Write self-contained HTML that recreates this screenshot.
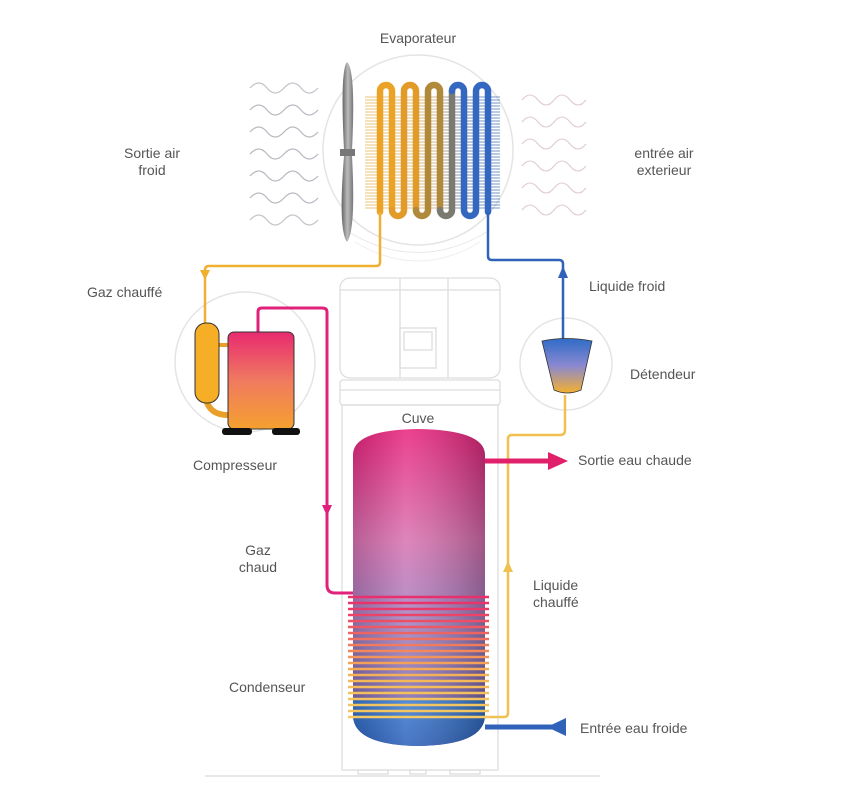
<!DOCTYPE html>
<html><head><meta charset="utf-8"><style>
html,body{margin:0;padding:0;background:#fff;}
svg{display:block;}
text{font-family:"Liberation Sans",sans-serif;font-size:14px;fill:#555;}
</style></head><body>
<svg width="862" height="799" viewBox="0 0 862 799" xmlns="http://www.w3.org/2000/svg">
<defs>
<linearGradient id="tank" x1="0" y1="0" x2="0" y2="1">
<stop offset="0" stop-color="#e8207a"/><stop offset="0.35" stop-color="#d870b0"/><stop offset="0.6" stop-color="#a080c0"/><stop offset="1" stop-color="#6a5aa8"/></linearGradient>
<linearGradient id="tankh" x1="0" y1="0" x2="1" y2="0">
<stop offset="0" stop-color="#000" stop-opacity="0.15"/><stop offset="0.4" stop-color="#fff" stop-opacity="0.15"/><stop offset="1" stop-color="#000" stop-opacity="0.25"/></linearGradient>
<linearGradient id="blue" x1="0" y1="0" x2="0" y2="1"><stop offset="0" stop-color="#3a7ad0"/><stop offset="1" stop-color="#2a5eb8"/></linearGradient>
<linearGradient id="comp" x1="0" y1="0" x2="0" y2="1"><stop offset="0" stop-color="#e82a70"/><stop offset="0.5" stop-color="#f07a60"/><stop offset="1" stop-color="#f5a030"/></linearGradient>
<linearGradient id="cone" x1="0" y1="0" x2="0" y2="1"><stop offset="0" stop-color="#2f6cc8"/><stop offset="0.5" stop-color="#8a88d0"/><stop offset="1" stop-color="#f5b030"/></linearGradient>
<linearGradient id="blade" x1="0" y1="0" x2="1" y2="0"><stop offset="0" stop-color="#666"/><stop offset="0.5" stop-color="#bbb"/><stop offset="1" stop-color="#777"/></linearGradient>
<linearGradient id="fin" x1="0" y1="0" x2="1" y2="0"><stop offset="0" stop-color="#e8b050"/><stop offset="0.5" stop-color="#c8a060"/><stop offset="0.7" stop-color="#607090"/><stop offset="1" stop-color="#4070b8"/></linearGradient>
</defs>

<!-- circles -->
<circle cx="418" cy="150" r="95" fill="#fff" stroke="#e4e4e4" stroke-width="1.5"/>
<path d="M345,230 Q418,275 490,230" fill="none" stroke="#e8e8e8"/>
<path d="M355,242 Q418,280 480,242" fill="none" stroke="#eee"/>
<circle cx="245" cy="362" r="70" fill="#fff" stroke="#e4e4e4" stroke-width="1.5"/>
<circle cx="566" cy="364" r="46" fill="#fff" stroke="#e4e4e4" stroke-width="1.5"/>

<!-- unit outline -->
<g fill="none" stroke="#ddd" stroke-width="1.3">
<rect x="340" y="278" width="160" height="100" rx="10"/>
<line x1="340" y1="290" x2="500" y2="290"/>
<line x1="400" y1="278" x2="400" y2="378"/><line x1="448" y1="278" x2="448" y2="378"/>
<rect x="400" y="328" width="36" height="40"/><rect x="404" y="332" width="28" height="18"/>
<rect x="340" y="380" width="160" height="25" rx="3"/>
<line x1="340" y1="390" x2="500" y2="390"/>
<rect x="342" y="405" width="156" height="365"/>
<rect x="358" y="770" width="30" height="4"/><rect x="410" y="770" width="16" height="4"/><rect x="450" y="770" width="30" height="4"/>
</g>
<line x1="205" y1="776" x2="600" y2="776" stroke="#e0e0e0" stroke-width="1.5"/>

<!-- waves -->
<g fill="none" stroke="#888898" stroke-width="1.2">
<path d="M250,88 q9,-10 17,0 t17,0 t17,0 t17,0" opacity="0.5"/>
<path d="M250,110 q9,-10 17,0 t17,0 t17,0 t17,0" opacity="0.6"/>
<path d="M250,132 q9,-10 17,0 t17,0 t17,0 t17,0" opacity="0.6"/>
<path d="M250,154 q9,-10 17,0 t17,0 t17,0 t17,0" opacity="0.6"/>
<path d="M250,176 q9,-10 17,0 t17,0 t17,0 t17,0" opacity="0.6"/>
<path d="M250,198 q9,-10 17,0 t17,0 t17,0 t17,0" opacity="0.6"/>
<path d="M250,220 q9,-10 17,0 t17,0 t17,0 t17,0" opacity="0.5"/>
</g>
<g fill="none" stroke="#c8a8b0" stroke-width="1.1" opacity="0.6">
<path d="M522,100 q8,-10 16,0 t16,0 t16,0 t16,0"/>
<path d="M522,122 q8,-10 16,0 t16,0 t16,0 t16,0"/>
<path d="M522,144 q8,-10 16,0 t16,0 t16,0 t16,0"/>
<path d="M522,166 q8,-10 16,0 t16,0 t16,0 t16,0"/>
<path d="M522,188 q8,-10 16,0 t16,0 t16,0 t16,0"/>
<path d="M522,210 q8,-10 16,0 t16,0 t16,0 t16,0"/>
</g>

<!-- fan -->
<path d="M347,62 Q356,70 352,150 L344,150 Q340,70 347,62z" fill="url(#blade)"/>
<path d="M344,156 L352,156 Q356,230 347,242 Q338,230 344,156z" fill="url(#blade)"/>
<rect x="340" y="149" width="15" height="7" fill="#777"/>

<!-- fins -->
<g stroke="url(#fin)" stroke-width="0.7">
<line x1="365" y1="97" x2="500" y2="97.01"/><line x1="365" y1="100" x2="500" y2="100.01"/><line x1="365" y1="103" x2="500" y2="103.01"/><line x1="365" y1="106" x2="500" y2="106.01"/><line x1="365" y1="109" x2="500" y2="109.01"/><line x1="365" y1="112" x2="500" y2="112.01"/><line x1="365" y1="115" x2="500" y2="115.01"/><line x1="365" y1="118" x2="500" y2="118.01"/><line x1="365" y1="121" x2="500" y2="121.01"/><line x1="365" y1="124" x2="500" y2="124.01"/><line x1="365" y1="127" x2="500" y2="127.01"/><line x1="365" y1="130" x2="500" y2="130.01"/><line x1="365" y1="133" x2="500" y2="133.01"/><line x1="365" y1="136" x2="500" y2="136.01"/><line x1="365" y1="139" x2="500" y2="139.01"/><line x1="365" y1="142" x2="500" y2="142.01"/><line x1="365" y1="145" x2="500" y2="145.01"/><line x1="365" y1="148" x2="500" y2="148.01"/><line x1="365" y1="151" x2="500" y2="151.01"/><line x1="365" y1="154" x2="500" y2="154.01"/><line x1="365" y1="157" x2="500" y2="157.01"/><line x1="365" y1="160" x2="500" y2="160.01"/><line x1="365" y1="163" x2="500" y2="163.01"/><line x1="365" y1="166" x2="500" y2="166.01"/><line x1="365" y1="169" x2="500" y2="169.01"/><line x1="365" y1="172" x2="500" y2="172.01"/><line x1="365" y1="175" x2="500" y2="175.01"/><line x1="365" y1="178" x2="500" y2="178.01"/><line x1="365" y1="181" x2="500" y2="181.01"/><line x1="365" y1="184" x2="500" y2="184.01"/><line x1="365" y1="187" x2="500" y2="187.01"/><line x1="365" y1="190" x2="500" y2="190.01"/><line x1="365" y1="193" x2="500" y2="193.01"/><line x1="365" y1="196" x2="500" y2="196.01"/><line x1="365" y1="199" x2="500" y2="199.01"/><line x1="365" y1="202" x2="500" y2="202.01"/><line x1="365" y1="205" x2="500" y2="205.01"/><line x1="365" y1="208" x2="500" y2="208.01"/>
</g>

<!-- serpentine -->
<g fill="none" stroke-width="6.5" stroke-linecap="round">
<path d="M380,212 V91 A6,6 0 0 1 392,91 V210" stroke="#eba325"/>
<path d="M392,210 A6,6 0 0 0 404,210 V91 A6,6 0 0 1 416,91 V210" stroke="#e29a28"/>
<path d="M416,210 A6,6 0 0 0 428,210 V91 A6,6 0 0 1 440,91 V210" stroke="#b08a3a"/>
<path d="M440,210 A6,6 0 0 0 452,210 V91" stroke="#7a7a70"/>
<path d="M452,91 A6,6 0 0 1 464,91 V210 A6,6 0 0 0 476,210 V91 A6,6 0 0 1 488,91 V212" stroke="#3468c0"/>
</g>

<!-- pipes -->
<path d="M380,212 V262 Q380,266 376,266 H209 Q205,266 205,270 V328" fill="none" stroke="#f0b030" stroke-width="2.5"/>
<path d="M200,270 L210,270 L205,280z" fill="#f0b030"/>
<path d="M488,212 V256 Q488,260 492,260 H559 Q563,260 563,264 V340" fill="none" stroke="#2f62b8" stroke-width="2.5"/>
<path d="M558,278 L568,278 L563,266z" fill="#2f62b8"/>
<path d="M258,332 V312 Q258,308 262,308 H322 Q327,308 327,312 V585 Q327,593 335,593 H355" fill="none" stroke="#e0207a" stroke-width="3"/>
<path d="M322,505 L332,505 L327,516z" fill="#e0207a"/>
<path d="M484,717 H504 Q508,717 508,713 V439 Q508,435 512,435 H560 Q565,435 565,430 V395" fill="none" stroke="#f0c050" stroke-width="2.5"/>
<path d="M503,572 L513,572 L508,561z" fill="#f0c050"/>

<!-- compressor -->
<path d="M205,390 Q205,415 228,415" fill="none" stroke="#e8a028" stroke-width="6"/>
<line x1="216" y1="345" x2="230" y2="345" stroke="#e8a028" stroke-width="4"/>
<rect x="195" y="323" width="24" height="80" rx="11" fill="#f5ae25" stroke="#333" stroke-width="1"/>
<rect x="228" y="332" width="66" height="97" rx="6" fill="url(#comp)" stroke="#333" stroke-width="1"/>
<rect x="222" y="428" width="30" height="7" rx="3" fill="#111"/>
<rect x="272" y="428" width="28" height="7" rx="3" fill="#111"/>

<!-- detendeur -->
<path d="M542,341 Q566,336 592,341 L581,390 Q567,396 554,390z" fill="url(#cone)" stroke="#333" stroke-width="0.8"/>

<!-- tank -->
<path d="M353,455 Q353,430 418,429 Q485,430 485,455 V715 Q485,745 418,746 Q353,745 353,715z" fill="url(#tank)"/>
<path d="M353,700 V715 Q353,745 418,746 Q485,745 485,715 V700z" fill="url(#blue)"/>
<path d="M353,455 Q353,430 418,429 Q485,430 485,455 V715 Q485,745 418,746 Q353,745 353,715z" fill="url(#tankh)"/>

<!-- coil -->
<g stroke-width="2.6" fill="none">
<line x1="348" y1="597" x2="489" y2="597" stroke="#e8306a"/><line x1="348" y1="603" x2="489" y2="603" stroke="#e8346a"/><line x1="348" y1="609" x2="489" y2="609" stroke="#ea3a6a"/><line x1="348" y1="615" x2="489" y2="615" stroke="#eb4468"/><line x1="348" y1="621" x2="489" y2="621" stroke="#ec4e66"/><line x1="348" y1="627" x2="489" y2="627" stroke="#ee5864"/><line x1="348" y1="633" x2="489" y2="633" stroke="#ef6462"/><line x1="348" y1="639" x2="489" y2="639" stroke="#f07060"/><line x1="348" y1="645" x2="489" y2="645" stroke="#f07c5e"/><line x1="348" y1="651" x2="489" y2="651" stroke="#f1885c"/><line x1="348" y1="657" x2="489" y2="657" stroke="#f2945a"/><line x1="348" y1="663" x2="489" y2="663" stroke="#f3a058"/><line x1="348" y1="669" x2="489" y2="669" stroke="#f3aa56"/><line x1="348" y1="675" x2="489" y2="675" stroke="#f4b256"/><line x1="348" y1="681" x2="489" y2="681" stroke="#f4b858"/><line x1="348" y1="687" x2="489" y2="687" stroke="#f4bc5a"/><line x1="348" y1="693" x2="489" y2="693" stroke="#f4c05c"/><line x1="348" y1="699" x2="489" y2="699" stroke="#f4c25e"/><line x1="348" y1="705" x2="489" y2="705" stroke="#f4c460"/><line x1="348" y1="711" x2="489" y2="711" stroke="#f4c662"/><line x1="348" y1="717" x2="489" y2="717" stroke="#f4c864"/>
</g>

<!-- water arrows -->
<line x1="485" y1="461" x2="552" y2="461" stroke="#e0206a" stroke-width="5"/>
<path d="M548,452 L568,461 L548,470z" fill="#e0206a"/>
<line x1="485" y1="727" x2="555" y2="727" stroke="#2f62b8" stroke-width="5"/>
<path d="M566,718 L547,727 L566,736z" fill="#2f62b8"/>

<!-- labels -->
<text x="418" y="43" text-anchor="middle">Evaporateur</text>
<text x="152" y="158" text-anchor="middle">Sortie air</text>
<text x="152" y="175" text-anchor="middle">froid</text>
<text x="664" y="158" text-anchor="middle">entrée air</text>
<text x="664" y="175" text-anchor="middle">exterieur</text>
<text x="87" y="297">Gaz chauffé</text>
<text x="589" y="291">Liquide froid</text>
<text x="630" y="379">Détendeur</text>
<text x="193" y="470">Compresseur</text>
<text x="418" y="423" text-anchor="middle">Cuve</text>
<text x="578" y="465">Sortie eau chaude</text>
<text x="258" y="555" text-anchor="middle">Gaz</text>
<text x="258" y="572" text-anchor="middle">chaud</text>
<text x="533" y="590">Liquide</text>
<text x="533" y="607">chauffé</text>
<text x="229" y="692">Condenseur</text>
<text x="580" y="733">Entrée eau froide</text>
</svg>
</body></html>
